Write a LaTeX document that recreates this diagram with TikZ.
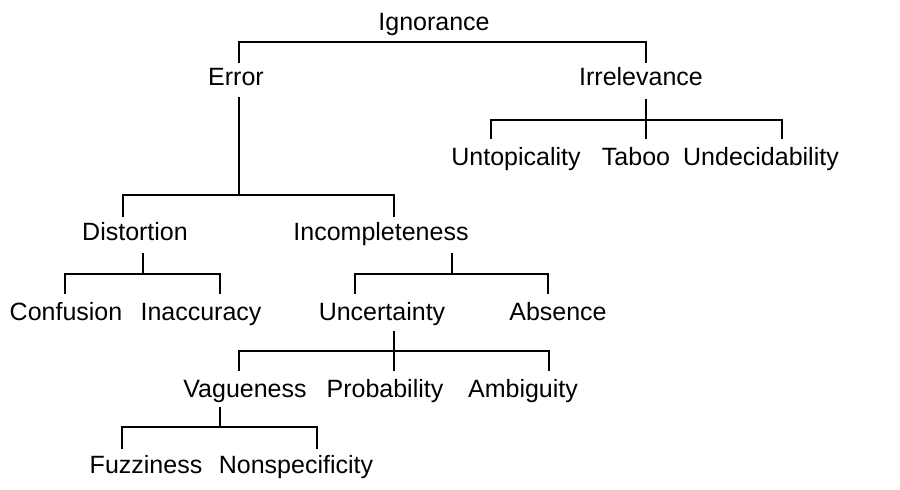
\documentclass[tikz,border=0pt]{standalone}
\usepackage{fontspec}
\setmainfont{Liberation Sans}
\begin{document}
\begin{tikzpicture}[x=1pt,y=-1pt,
  lbl/.style={anchor=base,inner sep=0pt,font=\fontsize{25}{29}\selectfont},
  link/.style={line width=2pt,line cap=rect}]
\useasboundingbox[fill=white] (0,0) rectangle (900,490);
% labels
\node[lbl] (ign) at (434,30) {Ignorance};
\node[lbl] (err) at (236,85) {Error};
\node[lbl] (irr) at (641,85) {Irrelevance};
\node[lbl] (unt) at (516,165) {Untopicality};
\node[lbl] (tab) at (636,165) {Taboo};
\node[lbl] (und) at (761,165) {Undecidability};
\node[lbl] (dis) at (135,240) {Distortion};
\node[lbl] (inc) at (381,240) {Incompleteness};
\node[lbl] (con) at (66,320) {Confusion};
\node[lbl] (ina) at (201,320) {Inaccuracy};
\node[lbl] (unc) at (382,320) {Uncertainty};
\node[lbl] (abs) at (558,320) {Absence};
\node[lbl] (vag) at (245,397) {Vagueness};
\node[lbl] (pro) at (385,397) {Probability};
\node[lbl] (amb) at (523,397) {Ambiguity};
\node[lbl] (fuz) at (146,473) {Fuzziness};
\node[lbl] (non) at (296,473) {Nonspecificity};
% connector end points
\coordinate (ign-h) at (0,42);
\coordinate (err-t) at (239,62);
\coordinate (irr-t) at (646,62);
\coordinate (err-s) at (239,98);
\coordinate (err-h) at (0,195);
\coordinate (dis-t) at (123,216);
\coordinate (inc-t) at (394,216);
\coordinate (irr-s) at (646,100);
\coordinate (irr-h) at (0,120);
\coordinate (unt-t) at (491,138);
\coordinate (tab-t) at (646,138);
\coordinate (und-t) at (782,138);
\coordinate (dis-s) at (143,254);
\coordinate (dis-h) at (0,274);
\coordinate (con-t) at (65,293);
\coordinate (ina-t) at (220,293);
\coordinate (inc-s) at (452,254);
\coordinate (unc-t) at (355,293);
\coordinate (abs-t) at (548,293);
\coordinate (unc-s) at (394,332);
\coordinate (unc-h) at (0,351);
\coordinate (vag-t) at (239,370);
\coordinate (pro-t) at (394,370);
\coordinate (amb-t) at (549,370);
\coordinate (vag-s) at (220,408);
\coordinate (vag-h) at (0,427);
\coordinate (fuz-t) at (122,448);
\coordinate (non-t) at (317,448);
% connectors
\draw[link] (err-t) -- (err-t |- ign-h) -- (irr-t |- ign-h) -- (irr-t);
\draw[link] (err-s) -- (err-s |- err-h);
\draw[link] (dis-t) -- (dis-t |- err-h) -- (inc-t |- err-h) -- (inc-t);
\draw[link] (irr-s) -- (tab-t);
\draw[link] (unt-t) -- (unt-t |- irr-h) -- (und-t |- irr-h) -- (und-t);
\draw[link] (dis-s) -- (dis-s |- dis-h);
\draw[link] (con-t) -- (con-t |- dis-h) -- (ina-t |- dis-h) -- (ina-t);
\draw[link] (inc-s) -- (inc-s |- dis-h);
\draw[link] (unc-t) -- (unc-t |- dis-h) -- (abs-t |- dis-h) -- (abs-t);
\draw[link] (unc-s) -- (pro-t);
\draw[link] (vag-t) -- (vag-t |- unc-h) -- (amb-t |- unc-h) -- (amb-t);
\draw[link] (vag-s) -- (vag-s |- vag-h);
\draw[link] (fuz-t) -- (fuz-t |- vag-h) -- (non-t |- vag-h) -- (non-t);
\end{tikzpicture}
\end{document}
